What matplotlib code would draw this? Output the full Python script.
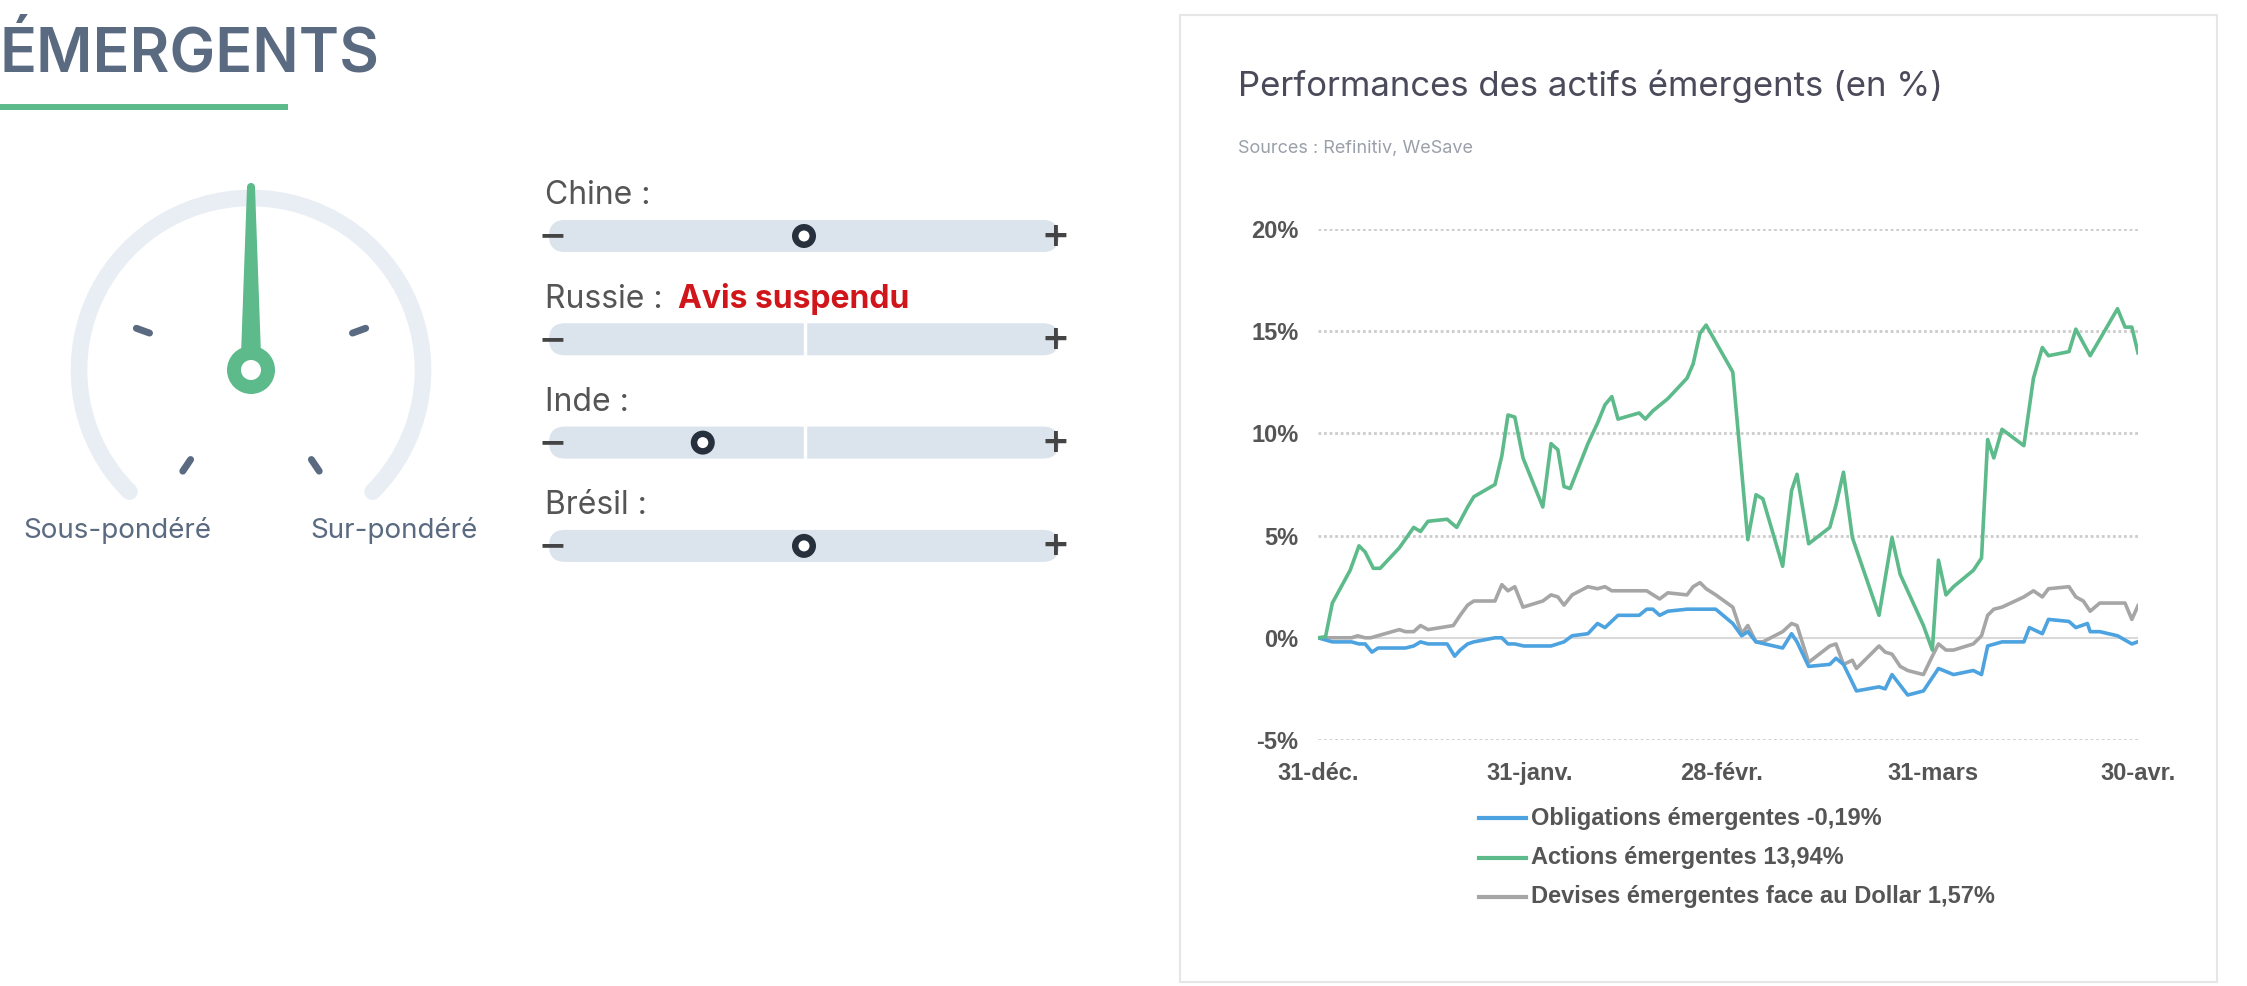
import numpy as np
import matplotlib
matplotlib.use("Agg")
import matplotlib.pyplot as plt
from matplotlib.patches import Arc, Circle, Polygon, FancyBboxPatch, Rectangle

# ---- data ----
green_days = [0, 1.1, 2.1, 4.7, 6.0, 6.9, 8.1, 9.1, 11.9, 14.0, 15.0, 16.1, 18.9, 20.3, 21.9, 22.8,
              25.9, 26.9, 27.8, 28.8, 30.0, 32.9, 34.1, 35.1, 36.0, 36.9, 39.5, 40.9, 42.0, 43.0,
              43.9, 47.0, 47.9, 49.0, 51.2, 54.0, 54.9, 55.9, 56.8, 60.7, 62.9, 64.1, 65.1, 68.0,
              69.3, 70.1, 71.8, 74.9, 75.8, 76.9, 78.2, 82.1, 84.0, 85.2, 88.6, 89.9, 90.8, 91.9,
              93.0, 95.9, 97.1, 98.0, 98.9, 100.1, 103.3, 104.7, 106.0, 106.9, 109.9, 110.9, 113.0,
              114.4, 117.0, 118.1, 119.1, 120]
green_vals = [0, 0.05, 1.7, 3.3, 4.5, 4.2, 3.4, 3.4, 4.4, 5.4, 5.2, 5.7, 5.8, 5.4, 6.4, 6.9,
              7.5, 8.9, 10.9, 10.8, 8.8, 6.4, 9.5, 9.2, 7.4, 7.3, 9.5, 10.5, 11.4, 11.8,
              10.7, 11.0, 10.7, 11.1, 11.7, 12.7, 13.4, 14.9, 15.3, 13.0, 4.8, 7.0, 6.8, 3.5,
              7.2, 8.0, 4.6, 5.4, 6.5, 8.1, 4.9, 1.1, 4.9, 3.1, 0.6, -0.6, 3.8, 2.1,
              2.5, 3.3, 3.9, 9.7, 8.8, 10.2, 9.4, 12.7, 14.2, 13.8, 14.0, 15.1, 13.8,
              14.6, 16.1, 15.2, 15.2, 13.94]

gray_days = [0, 4.9, 5.8, 6.9, 7.7, 11.9, 12.8, 14.0, 15.0, 16.1, 19.8, 20.8, 21.9, 22.8, 25.9,
             26.9, 27.8, 28.8, 30.0, 32.9, 34.1, 35.1, 36.0, 37.2, 39.5, 40.9, 42.0, 43.0, 48.1,
             50.0, 51.2, 54.0, 54.9, 55.9, 56.8, 58.2, 60.7, 62.0, 62.9, 64.1, 65.1, 68.0, 69.3,
             70.1, 71.8, 74.9, 75.8, 76.9, 78.2, 78.8, 82.1, 83.0, 84.0, 85.2, 86.3, 88.6, 89.9,
             90.8, 91.9, 93.0, 95.9, 97.1, 98.0, 98.9, 100.1, 103.3, 104.7, 106.0, 106.9, 109.9,
             110.9, 112.0, 113.0, 114.4, 118.1, 119.1, 120]
gray_vals = [0, 0, 0.1, 0, 0, 0.4, 0.3, 0.3, 0.6, 0.4, 0.6, 1.1, 1.6, 1.8, 1.8,
             2.6, 2.3, 2.5, 1.5, 1.8, 2.1, 2.0, 1.6, 2.1, 2.5, 2.4, 2.5, 2.3, 2.3,
             1.9, 2.2, 2.1, 2.5, 2.7, 2.4, 2.1, 1.5, 0.2, 0.6, -0.2, -0.2, 0.3, 0.7,
             0.6, -1.2, -0.4, -0.3, -1.3, -1.1, -1.5, -0.4, -0.7, -0.8, -1.4, -1.6, -1.8, -0.9,
             -0.3, -0.6, -0.6, -0.3, 0.1, 1.1, 1.4, 1.5, 2.0, 2.3, 2.0, 2.4, 2.5,
             2.0, 1.8, 1.3, 1.7, 1.7, 0.9, 1.57]

blue_days = [0, 2.1, 4.9, 6.0, 6.9, 7.9, 8.8, 12.8, 14.0, 15.0, 16.1, 18.9, 20.0, 20.8, 21.9,
             22.8, 25.9, 26.9, 27.8, 28.8, 30.1, 34.1, 36.0, 37.2, 39.5, 40.9, 42.0, 43.9, 47.0,
             48.1, 49.0, 50.0, 51.2, 54.0, 58.2, 60.7, 62.0, 62.9, 64.1, 68.0, 69.3, 70.1, 71.8,
             74.9, 75.8, 76.9, 78.8, 82.1, 83.0, 84.0, 86.3, 88.6, 90.8, 93.0, 95.9, 97.1, 98.0,
             100.1, 103.3, 104.1, 106.0, 106.9, 109.9, 110.9, 112.6, 113.0, 114.4, 117.0, 119.1, 120]
blue_vals = [0, -0.2, -0.2, -0.3, -0.3, -0.7, -0.5, -0.5, -0.4, -0.2, -0.3, -0.3, -0.9, -0.6, -0.3,
             -0.2, 0, 0, -0.3, -0.3, -0.4, -0.4, -0.2, 0.1, 0.2, 0.7, 0.5, 1.1, 1.1,
             1.4, 1.4, 1.1, 1.3, 1.4, 1.4, 0.7, 0.1, 0.3, -0.2, -0.5, 0.2, -0.2, -1.4,
             -1.3, -1.0, -1.3, -2.6, -2.4, -2.5, -1.8, -2.8, -2.6, -1.5, -1.8, -1.6, -1.8, -0.4,
             -0.2, -0.2, 0.5, 0.2, 0.9, 0.8, 0.5, 0.7, 0.3, 0.3, 0.1, -0.3, -0.19]

x_ticks = [0, 31, 59, 90, 120]
x_labels = ["31-déc.", "31-janv.", "28-févr.", "31-mars", "30-avr."]
y_ticks = [-5, 0, 5, 10, 15, 20]
legend_labels = ["Obligations émergentes -0,19%", "Actions émergentes 13,94%",
                 "Devises émergentes face au Dollar 1,57%"]
countries = ["Chine :", "Russie :", "Inde :", "Brésil :"]
country_pos = [0.5, None, 0.29, 0.5]  # slider position, None = suspended

BLUE, GREEN, GRAY = "#4da3e0", "#5dba8a", "#a6a6a6"
SLATE = "#5a6a80"

W, H = 2247, 986
fig = plt.figure(figsize=(W / 100, H / 100), dpi=100)
bg = fig.add_axes([0, 0, 1, 1])
bg.set_xlim(0, W)
bg.set_ylim(H, 0)
bg.axis("off")

# ---- left panel ----
bg.text(0, 55, "ÉMERGENTS", fontsize=44, fontweight="semibold", family="Inter",
        color=SLATE, va="center", ha="left")
bg.add_patch(Rectangle((0, 104), 288, 6, color=GREEN, lw=0))

cx, cy, r = 251, 370, 172
bg.add_patch(Arc((cx, cy), 2 * r, 2 * r, theta1=-225, theta2=45, color="#e8eef4",
                 lw=12, capstyle="round"))
for ang in [160, 20, -124, -56]:
    a = np.radians(ang)
    r1, r2 = 108, 122
    bg.plot([cx + r1 * np.cos(a), cx + r2 * np.cos(a)],
            [cy - r1 * np.sin(a), cy - r2 * np.sin(a)],
            color=SLATE, lw=5, solid_capstyle="round")
bg.add_patch(Polygon([(cx - 10, cy - 15), (cx + 10, cy - 15), (cx + 4, cy - 183), (cx - 4, cy - 183)],
                     closed=True, color=GREEN, lw=0))
bg.add_patch(Circle((cx, cy - 183), 4, color=GREEN, lw=0))
bg.add_patch(Circle((cx, cy), 24, color=GREEN, lw=0))
bg.add_patch(Circle((cx, cy), 10, color="white", lw=0))
bg.text(117, 531, "Sous-pondéré", fontsize=20, family="Inter", color=SLATE, ha="center", va="center")
bg.text(394, 531, "Sur-pondéré", fontsize=20, family="Inter", color=SLATE, ha="center", va="center")

bx0, bx1, bh = 533, 1075, 32
for i, (name, pos) in enumerate(zip(countries, country_pos)):
    yc = 236 + i * 103.3
    bg.text(545, yc - 40, name, fontsize=23, family="Inter", color="#555555", va="center")
    if pos is None:
        bg.text(678, yc - 40, "Avis suspendu", fontsize=23, family="Inter", fontweight="bold",
                color="#d0161b", va="center")
    bg.add_patch(FancyBboxPatch((bx0 + 16, yc - bh / 2), bx1 - bx0 - 32, bh,
                                boxstyle="round,pad=0,rounding_size=16", color="#dbe3ed", lw=0))
    bg.text(553, yc, "−", fontsize=24, fontweight="bold", color="#444444", ha="center", va="center")
    bg.text(1055, yc, "+", fontsize=24, fontweight="bold", color="#444444", ha="center", va="center")
    if i in (1, 2):
        bg.plot([805, 805], [yc - bh / 2, yc + bh / 2], color="white", lw=2.5)
    if pos is not None:
        mx = bx0 + 30 + pos * (bx1 - bx0 - 60)
        bg.add_patch(Circle((mx, yc), 12, color="#26313d", lw=0))
        bg.add_patch(Circle((mx, yc), 5.5, color="white", lw=0))

# ---- right card ----
bg.add_patch(Rectangle((1180, 15), 1037, 967, fill=False, ec="#e6e6e6", lw=1.5))
bg.text(1238, 86, "Performances des actifs émergents (en %)", fontsize=25, family="Inter",
        color="#4a4a5a", va="center")
bg.text(1238, 149, "Sources : Refinitiv, WeSave", fontsize=13, family="Inter",
        color="#9aa0aa", va="center")

ax = fig.add_axes([1318 / W, (H - 740) / H, 820 / W, 511 / H])
ax.set_xlim(0, 120)
ax.set_ylim(-5, 20)
for y in [-5, 5, 10, 15, 20]:
    ax.axhline(y, color="#cccccc", lw=2, ls=(0, (1, 1)), zorder=1)
ax.axhline(0, color="#d9d9d9", lw=1.5, zorder=1)
ax.plot(blue_days, blue_vals, color=BLUE, lw=2.6, zorder=3)
ax.plot(green_days, green_vals, color=GREEN, lw=2.6, zorder=3)
ax.plot(gray_days, gray_vals, color=GRAY, lw=2.6, zorder=2)
for s in ax.spines.values():
    s.set_visible(False)
tick_font = dict(family=["Liberation Sans Narrow", "Liberation Sans"], fontweight="bold",
                 color="#555555", fontsize=17)
ax.set_yticks(y_ticks)
ax.set_yticklabels([f"{v}%" for v in y_ticks], **tick_font)
ax.set_xticks(x_ticks)
ax.set_xticklabels(x_labels, **tick_font)
ax.tick_params(length=0, pad=14)
ax.tick_params(axis="x", pad=16)

# legend
for i, (lab, col) in enumerate(zip(legend_labels, [BLUE, GREEN, GRAY])):
    ly = 818 + i * 39.5
    bg.plot([1479, 1526], [ly, ly], color=col, lw=3)
    bg.text(1531, ly, lab, va="center", ha="left", **tick_font)

fig.savefig("out.png", dpi=100, facecolor="white")
